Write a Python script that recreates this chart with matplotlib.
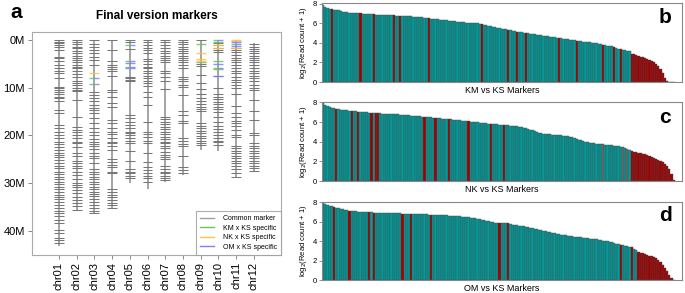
import numpy as np
import matplotlib
matplotlib.use('Agg')
import matplotlib.pyplot as plt
from matplotlib.lines import Line2D

plt.rcParams['font.family'] = ['Liberation Sans', 'DejaVu Sans']

# ---------------- panel a data (positions in Mb) ----------------
chrom_names = ['chr01', 'chr02', 'chr03', 'chr04', 'chr05', 'chr06',
               'chr07', 'chr08', 'chr09', 'chr10', 'chr11', 'chr12']
chrom_len = [43.3, 35.9, 36.4, 35.5, 29.9, 31.2, 29.7, 28.4, 23.0, 23.2, 29.0, 27.5]
chrom_start = [0, 0, 0, 0, 0, 0, 0, 0, 0, 0, 0, 0.7]

common = [
    [0.1, 0.4, 0.7, 1.0, 1.4, 2.1, 3.5, 3.8, 4.5, 5.2, 5.9, 6.6, 7.0, 8.0, 9.8, 10.1, 10.5,
     11.0, 11.4, 11.9, 12.2, 12.9, 14.7, 15.4, 17.8, 18.5, 19.2, 19.9, 20.6, 21.3, 21.8, 22.4,
     23.1, 23.6, 24.1, 24.6, 25.2, 25.9, 26.4, 26.9, 27.6, 28.1, 28.7, 29.2, 29.7, 30.2, 30.8,
     31.3, 31.8, 32.5, 33.0, 33.4, 33.9, 34.6, 35.3, 35.8, 36.3, 37.0, 37.7, 38.4, 39.8, 40.4,
     41.6, 41.9, 42.6],
    [0.0, 0.35, 0.9, 1.4, 1.75, 2.3, 2.8, 3.3, 3.8, 4.2, 4.7, 5.2, 5.6, 5.9, 6.6, 7.2, 7.7,
     8.7, 9.1, 9.4, 10.0, 10.5, 10.8, 12.6, 16.1, 18.2, 18.9, 19.2, 19.9, 20.6, 21.3, 21.7,
     22.4, 23.8, 24.3, 25.3, 25.9, 26.4, 26.9, 27.6, 28.3, 29.2, 29.9, 30.4, 30.8, 31.4, 32.1,
     33.0, 33.5, 34.2, 34.9, 35.6],
    [0.0, 0.9, 1.4, 2.1, 2.8, 3.5, 4.2, 5.2, 10.9, 11.5, 12.2, 12.9, 13.6, 14.2, 14.7, 15.4,
     16.3, 17.5, 18.5, 19.2, 19.9, 20.8, 21.3, 21.8, 22.2, 22.9, 23.8, 24.3, 24.8, 25.9, 27.1,
     27.6, 28.1, 28.7, 29.2, 29.7, 30.2, 30.8, 31.3, 31.8, 32.3, 32.8, 33.4, 33.9, 34.6, 35.3,
     35.8, 36.2],
    [0.0, 2.1, 4.5, 5.2, 5.6, 6.1, 6.6, 7.5, 10.5, 11.0, 11.9, 13.3, 14.0, 16.8, 17.5, 18.5,
     19.2, 19.8, 20.6, 21.3, 21.7, 22.2, 23.1, 25.0, 25.5, 26.2, 26.7, 27.6, 28.0, 31.3, 31.8,
     32.5, 33.0, 33.5, 34.1, 34.6, 35.3],
    [0.0, 0.35, 1.8, 7.7, 8.0, 8.4, 8.7, 15.7, 16.3, 17.1, 17.8, 18.4, 19.2, 19.6, 19.9, 20.6,
     21.2, 21.7, 23.2, 25.3, 27.1, 27.6, 28.0, 28.5, 29.0],
    [0.0, 0.5, 1.05, 1.6, 2.1, 2.8, 4.0, 4.5, 5.1, 5.6, 5.9, 6.5, 7.0, 7.5, 8.0, 8.6, 9.1, 9.6,
     11.0, 11.9, 13.6, 17.3, 19.2, 19.8, 20.3, 21.2, 21.6, 23.8, 25.5, 26.7, 27.2, 27.8, 28.5,
     29.0, 29.7],
    [0.0, 0.5, 1.05, 1.6, 2.3, 2.8, 3.3, 3.7, 4.2, 4.7, 6.5, 7.0, 7.7, 8.7, 10.3, 16.1, 16.6,
     17.1, 17.7, 18.2, 18.7, 19.2, 19.8, 20.3, 20.8, 21.3, 21.7, 22.2, 22.7, 23.4, 24.1, 24.6,
     25.0, 26.4, 27.1, 27.6, 28.0, 28.5, 29.0, 29.4],
    [0.0, 0.5, 0.9, 1.4, 1.9, 2.3, 2.8, 3.3, 3.7, 4.2, 4.7, 5.2, 5.8, 7.7, 8.2, 8.7, 9.4, 9.9,
     11.5, 15.0, 15.7, 17.0, 17.5, 20.5, 21.2, 21.8, 22.2, 24.3, 26.7, 27.2, 27.8],
    [0.0, 5.1, 5.4, 7.3, 9.1, 10.3, 11.4, 12.2, 12.9, 13.5, 14.0, 14.5, 14.9, 17.5, 18.0, 18.5,
     19.1, 19.6, 20.1, 20.6, 21.2, 21.6, 22.1],
    [0.7, 1.05, 1.6, 2.1, 2.6, 7.5, 10.1, 11.4, 11.9, 12.4, 13.1, 13.5, 14.0, 14.5, 15.2, 16.1,
     17.3, 18.0, 18.7, 19.2, 19.9, 20.6, 21.2, 21.4, 22.1],
    [1.6, 2.1, 2.6, 3.1, 3.7, 4.2, 4.7, 5.2, 5.8, 6.5, 7.0, 7.7, 8.4, 8.9, 9.4, 10.0, 11.4,
     13.8, 15.4, 16.1, 17.0, 17.5, 18.0, 18.9, 19.9, 20.3, 22.2, 22.7, 23.2, 23.8, 24.3, 24.8,
     25.3, 25.9, 26.4, 27.1, 27.8, 28.8],
    [0.9, 1.4, 1.9, 2.4, 2.8, 3.3, 3.7, 4.2, 4.7, 5.2, 5.8, 6.5, 7.0, 7.5, 8.0, 8.7, 9.4, 10.0,
     10.5, 12.6, 15.0, 16.8, 19.6, 19.9, 21.7, 22.2, 22.7, 23.2, 23.8, 24.3, 24.8, 25.3, 25.9,
     26.4, 26.9, 27.4],
]

# specific markers: (chromosome number, position in Mb)
km_specific = [(3, 7.9), (3, 9.3), (5, 1.05), (5, 4.5), (5, 5.6), (9, 0.9), (9, 4.7),
               (10, 0.0), (10, 0.35), (10, 4.4), (10, 5.8), (10, 6.1), (11, 0.9)]
nk_specific = [(3, 7.0), (9, 2.8), (9, 4.0), (9, 4.4), (10, 1.05), (10, 1.6),
               (11, 0.0), (11, 0.25), (11, 1.6)]
om_specific = [(3, 7.9), (3, 9.3), (5, 1.05), (5, 4.5), (5, 4.9), (5, 5.6), (5, 5.9),
               (10, 0.0), (10, 5.1), (10, 5.8), (10, 7.5), (11, 0.5), (11, 0.9), (11, 1.2)]

# ---------------- panels b-d data ----------------
km_vals = [7.9, 7.7, 7.6, 7.5, 7.45, 7.4, 7.38, 7.35, 7.3, 7.2,
           7.15, 7.12, 7.1, 7.08, 7.06, 7.05, 7.04, 7.02, 7.0, 6.98,
           6.95, 6.92, 6.9, 6.9, 6.88, 6.87, 6.86, 6.85, 6.85, 6.84,
           6.83, 6.82, 6.8, 6.79, 6.78, 6.77, 6.76, 6.75, 6.74, 6.72,
           6.7, 6.68, 6.66, 6.64, 6.62, 6.6, 6.57, 6.54, 6.5, 6.46,
           6.44, 6.42, 6.4, 6.38, 6.35, 6.33, 6.3, 6.28, 6.25, 6.22,
           6.2, 6.17, 6.15, 6.12, 6.1, 6.08, 6.05, 6.03, 6.01, 6.0,
           5.98, 5.96, 5.9, 5.85, 5.8, 5.75, 5.7, 5.65, 5.6, 5.55,
           5.5, 5.45, 5.42, 5.4, 5.35, 5.3, 5.25, 5.2, 5.15, 5.1,
           5.08, 5.05, 5.0, 4.97, 4.93, 4.9, 4.87, 4.83, 4.8, 4.77,
           4.74, 4.7, 4.67, 4.64, 4.6, 4.57, 4.53, 4.5, 4.47, 4.44,
           4.4, 4.37, 4.33, 4.3, 4.27, 4.24, 4.2, 4.17, 4.14, 4.1,
           4.07, 4.04, 4.0, 3.97, 3.94, 3.9, 3.86, 3.82, 3.78, 3.72,
           3.68, 3.63, 3.58, 3.5, 3.42, 3.35, 3.3, 3.25, 3.2, 3.15,
           2.9, 2.82, 2.75, 2.68, 2.6, 2.52, 2.45, 2.35, 2.25, 2.15,
           2.0, 1.85, 1.6, 1.3, 0.9, 0.4, 0.1, 0.05, 0.03, 0.02]
km_red = [4, 17, 23, 32, 35, 48, 72, 84, 88, 92, 107, 115, 127, 132, 135]
km_gray = []
km_tail = 140

nk_vals = [7.9, 7.7, 7.6, 7.5, 7.45, 7.4, 7.35, 7.3, 7.28, 7.25,
           7.22, 7.2, 7.18, 7.15, 7.12, 7.1, 7.07, 7.05, 7.03, 7.0,
           6.98, 6.96, 6.94, 6.92, 6.9, 6.89, 6.88, 6.87, 6.86, 6.85,
           6.84, 6.83, 6.82, 6.8, 6.78, 6.76, 6.74, 6.72, 6.7, 6.68,
           6.66, 6.64, 6.62, 6.6, 6.58, 6.56, 6.54, 6.52, 6.5, 6.47,
           6.44, 6.42, 6.4, 6.38, 6.36, 6.34, 6.32, 6.3, 6.28, 6.25,
           6.22, 6.2, 6.18, 6.15, 6.13, 6.1, 6.08, 6.05, 6.02, 6.0,
           5.97, 5.94, 5.91, 5.88, 5.86, 5.84, 5.82, 5.8, 5.78, 5.76,
           5.74, 5.72, 5.7, 5.68, 5.66, 5.64, 5.62, 5.6, 5.57, 5.54,
           5.5, 5.45, 5.38, 5.3, 5.22, 5.15, 5.08, 5.0, 4.93, 4.86,
           4.8, 4.78, 4.76, 4.74, 4.72, 4.7, 4.68, 4.66, 4.64, 4.62,
           4.6, 4.57, 4.52, 4.45, 4.38, 4.3, 4.22, 4.15, 4.08, 4.0,
           3.95, 3.9, 3.87, 3.84, 3.82, 3.8, 3.77, 3.74, 3.71, 3.68,
           3.65, 3.62, 3.58, 3.55, 3.52, 3.5, 3.45, 3.35, 3.25, 3.15,
           3.05, 2.98, 2.93, 2.88, 2.83, 2.78, 2.72, 2.65, 2.57, 2.48,
           2.38, 2.28, 2.15, 2.02, 1.9, 1.75, 1.5, 1.2, 0.7, 0.15]
nk_red = [6, 13, 16, 22, 24, 25, 46, 51, 57, 66, 76, 82]
nk_gray = [127, 136, 138]
nk_tail = 140

om_vals = [7.9, 7.8, 7.72, 7.66, 7.6, 7.52, 7.45, 7.38, 7.32, 7.27,
           7.23, 7.2, 7.16, 7.12, 7.09, 7.07, 7.05, 7.03, 7.01, 7.0,
           6.98, 6.97, 6.96, 6.95, 6.94, 6.93, 6.92, 6.91, 6.9, 6.89,
           6.88, 6.88, 6.87, 6.87, 6.86, 6.86, 6.85, 6.85, 6.84, 6.84,
           6.83, 6.82, 6.81, 6.8, 6.79, 6.78, 6.77, 6.76, 6.75, 6.73,
           6.72, 6.71, 6.7, 6.69, 6.68, 6.67, 6.65, 6.63, 6.62, 6.6,
           6.58, 6.57, 6.55, 6.53, 6.51, 6.48, 6.45, 6.42, 6.38, 6.34,
           6.3, 6.25, 6.2, 6.15, 6.1, 6.05, 6.0, 5.95, 5.9, 5.88,
           5.87, 5.86, 5.85, 5.85, 5.84, 5.78, 5.72, 5.67, 5.62, 5.6,
           5.57, 5.53, 5.48, 5.43, 5.37, 5.32, 5.27, 5.22, 5.17, 5.12,
           5.08, 5.03, 4.98, 4.93, 4.88, 4.83, 4.78, 4.73, 4.68, 4.64,
           4.6, 4.57, 4.54, 4.51, 4.48, 4.45, 4.42, 4.39, 4.36, 4.33,
           4.3, 4.27, 4.24, 4.21, 4.18, 4.14, 4.1, 4.06, 4.02, 3.98,
           3.93, 3.88, 3.82, 3.76, 3.7, 3.65, 3.6, 3.55, 3.5, 3.45,
           3.38, 3.25, 3.1, 2.9, 2.82, 2.75, 2.68, 2.6, 2.52, 2.45,
           2.35, 2.25, 2.1, 1.85, 1.6, 1.25, 0.9, 0.5, 0.2, 0.05]
om_red = [5, 12, 21, 23, 36, 40, 49, 80, 84, 135, 140]
om_gray = []
om_tail = 143

TEAL = '#009B9B'
RED = '#A00000'
GRAY = '#6E6E6E'
KM_COL = '#66C266'
NK_COL = '#FFC04D'
OM_COL = '#7F7FFF'

fig = plt.figure(figsize=(6.85, 2.93), dpi=100)

# ---------------- panel a ----------------
ax = fig.add_axes([0.0467, 0.130, 0.3635, 0.761])
half = 0.28
for i, name in enumerate(chrom_names):
    xc = i + 1
    ax.vlines(xc, chrom_start[i], chrom_len[i], color='#8C8C8C', lw=1.1, zorder=1)
    ax.hlines(common[i], xc - half, xc + half, color='#777777', lw=0.75, zorder=2)

spec = [(km_specific, KM_COL), (nk_specific, NK_COL), (om_specific, OM_COL)]
all_spec = [set(s) for s, _ in spec]
for k, (lst, col) in enumerate(spec):
    for c, pos in lst:
        shared = [j for j in range(3) if (c, pos) in all_spec[j]]
        if len(shared) > 1:
            n = shared.index(k)
            seg = 2 * half / len(shared)
            x0 = c - half + n * seg
            ax.hlines(pos, x0, x0 + seg, color=col, lw=1.0, alpha=0.85, zorder=3)
        else:
            ax.hlines(pos, c - half, c + half, color=col, lw=1.0, alpha=0.85, zorder=3)

ax.set_xlim(-0.525, 13.54)
ax.set_ylim(45.07, -1.68)
ax.set_yticks([0, 10, 20, 30, 40])
ax.set_yticklabels(['0M', '10M', '20M', '30M', '40M'], fontsize=8)
ax.set_xticks(range(1, 13))
ax.set_xticklabels(chrom_names, rotation=90, fontsize=8)
ax.tick_params(length=3, width=0.6, color='#777777', pad=2)
for s in ax.spines.values():
    s.set_color('#AAAAAA')
    s.set_linewidth(0.8)
ax.set_title('Final version markers', fontsize=8.5, fontweight='bold', pad=9)
fig.text(0.023, 0.958, 'a', fontsize=15, fontweight='bold', ha='center', va='center')

handles = [Line2D([], [], color='#A0A0A0', lw=1),
           Line2D([], [], color=KM_COL, lw=1),
           Line2D([], [], color=NK_COL, lw=1),
           Line2D([], [], color=OM_COL, lw=1)]
leg = ax.legend(handles, ['Common marker', 'KM x KS specific', 'NK x KS specific',
                          'OM x KS specific'],
                loc='lower right', bbox_to_anchor=(1.0, 0.0), borderaxespad=0,
                fontsize=5, frameon=True, fancybox=False, handlelength=2.0,
                labelspacing=0.35, borderpad=0.6, handletextpad=1.2)
leg.get_frame().set_edgecolor('#999999')
leg.get_frame().set_linewidth(0.8)

# ---------------- panels b-d ----------------
panels = [
    (km_vals, km_red, km_gray, km_tail, 'KM vs KS Markers', 'b', [0.470, 0.720, 0.5256, 0.269], 0.82),
    (nk_vals, nk_red, nk_gray, nk_tail, 'NK vs KS Markers', 'c', [0.470, 0.382, 0.5256, 0.270], 0.80),
    (om_vals, om_red, om_gray, om_tail, 'OM vs KS Markers', 'd', [0.470, 0.044, 0.5256, 0.267], 0.83),
]
for vals, reds, grays, tail, xlab, letter, rect, ly in panels:
    bx = fig.add_axes(rect)
    n = len(vals)
    cols = []
    for j in range(n):
        if j >= tail or j in reds:
            cols.append(RED)
        elif j in grays:
            cols.append(GRAY)
        else:
            cols.append(TEAL)
    bx.bar(np.arange(n), vals, width=1.0, color=cols, edgecolor='#4A4A4A', linewidth=0.3)
    bx.set_xlim(-0.5, n / 0.98 - 0.5)
    bx.set_ylim(0, 8.05)
    bx.set_yticks([0, 2, 4, 6, 8])
    bx.set_xticks([])
    bx.tick_params(axis='y', labelsize=5.5, length=2, width=0.5, pad=1.5, color='#666666')
    bx.set_ylabel(r'log$_2$(Read count + 1)', fontsize=5.5, labelpad=3)
    bx.set_xlabel(xlab, fontsize=6.5, labelpad=3)
    for s in bx.spines.values():
        s.set_color('#888888')
        s.set_linewidth(0.8)
    bx.text(0.953, ly, letter, transform=bx.transAxes, fontsize=15, fontweight='bold',
            ha='center', va='center')

fig.savefig('out.png', dpi=100)
